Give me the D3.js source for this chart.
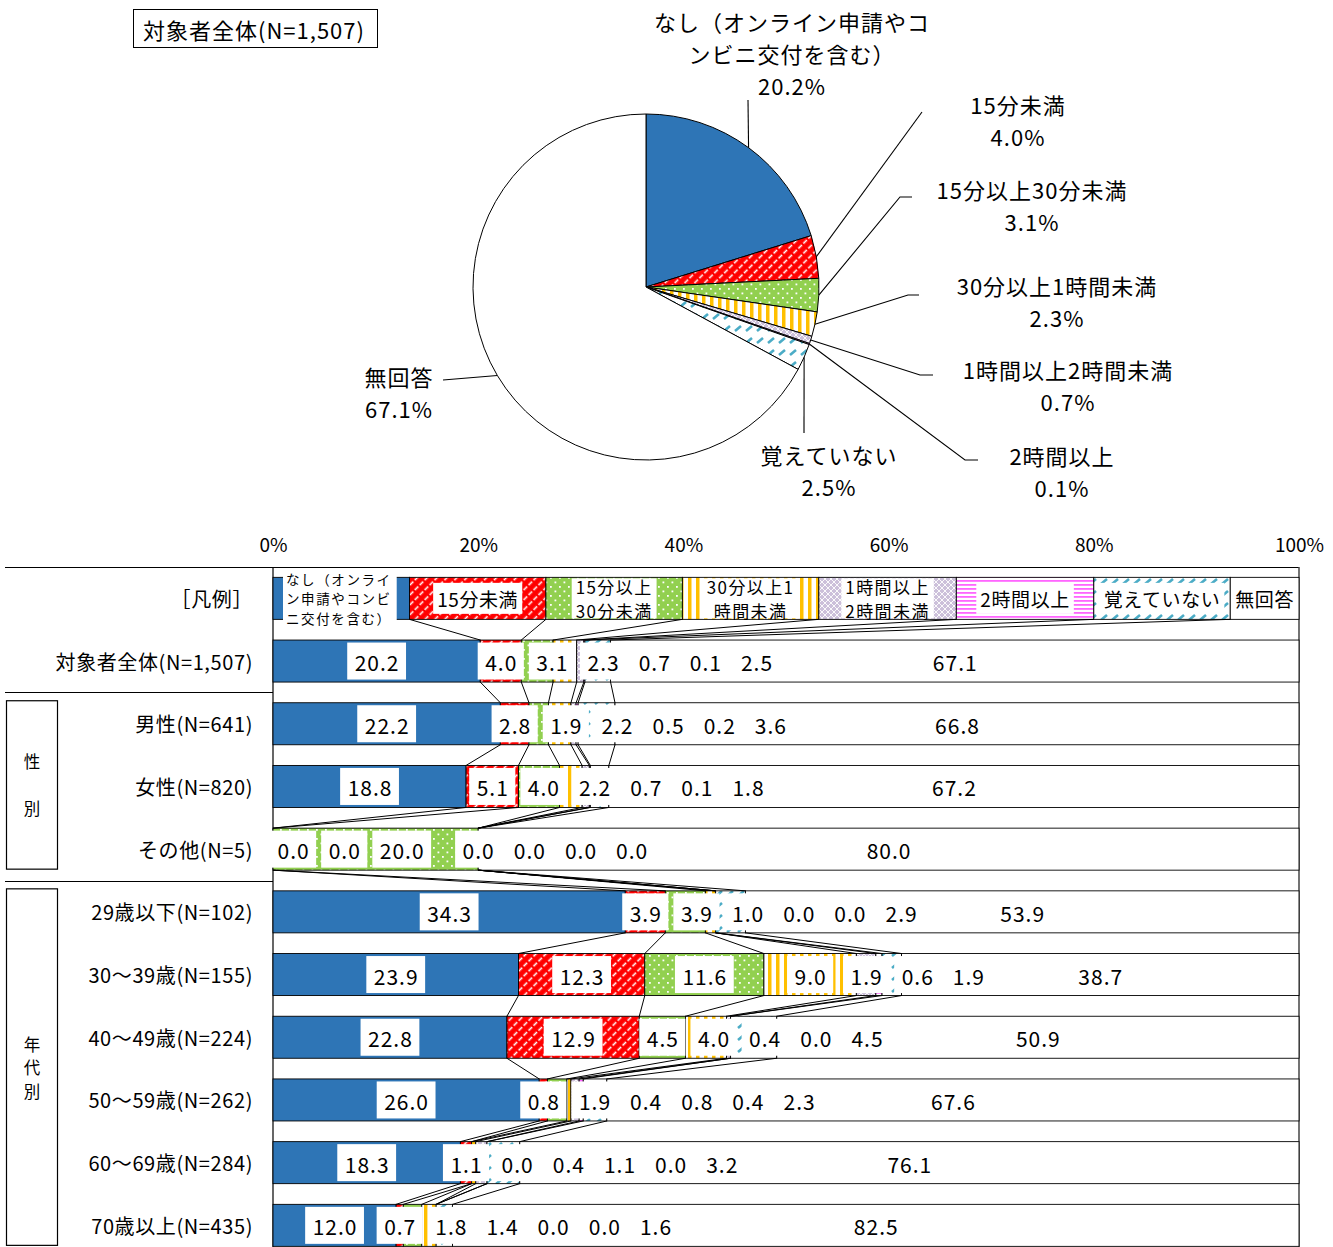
<!DOCTYPE html>
<html>
<head>
<meta charset="utf-8">
<script src="https://cdn.jsdelivr.net/npm/d3@7"></script>
<style>
body { margin: 0; background: #fff; }
text { font-family: "Noto Sans CJK JP", "Noto Sans", sans-serif; fill: #000; }
</style>
</head>
<body>
<div id="chart"></div>
<script>
const width = 1333, height = 1247;

// answer options
const categories = ["なし（オンライン申請やコンビニ交付を含む）", "15分未満", "15分以上30分未満", "30分以上1時間未満",
    "1時間以上2時間未満", "2時間以上", "覚えていない", "無回答"];

// pie (対象者全体)
const pieTitle = "対象者全体(N=1,507)";
const pieValues = [20.2, 4.0, 3.1, 2.3, 0.7, 0.1, 2.5, 67.1];
const pieLabelLines = [["なし（オンライン申請やコ", "ンビニ交付を含む）"], ["15分未満"], ["15分以上30分未満"], ["30分以上1時間未満"],
    ["1時間以上2時間未満"], ["2時間以上"], ["覚えていない"], ["無回答"]];

// legend row of the bar chart
const legendName = "［凡例］";
const legendShares = [13.3, 13.3, 13.3, 13.3, 13.4, 13.4, 13.3, 6.7];
const legendLines = [["なし（オンライ", "ン申請やコンビ", "ニ交付を含む）"], ["15分未満"], ["15分以上", "30分未満"], ["30分以上1", "時間未満"],
    ["1時間以上", "2時間未満"], ["2時間以上"], ["覚えていない"], ["無回答"]];

// bar rows
const rowLabels = ["対象者全体(N=1,507)", "男性(N=641)", "女性(N=820)", "その他(N=5)", "29歳以下(N=102)", "30～39歳(N=155)",
    "40～49歳(N=224)", "50～59歳(N=262)", "60～69歳(N=284)", "70歳以上(N=435)"];
const nashi    = [20.2, 22.2, 18.8,  0.0, 34.3, 23.9, 22.8, 26.0, 18.3, 12.0];
const under15  = [ 4.0,  2.8,  5.1,  0.0,  3.9, 12.3, 12.9,  0.8,  1.1,  0.7];
const min15_30 = [ 3.1,  1.9,  4.0, 20.0,  3.9, 11.6,  4.5,  1.9,  0.0,  1.8];
const min30_60 = [ 2.3,  2.2,  2.2,  0.0,  1.0,  9.0,  4.0,  0.4,  0.4,  1.4];
const hour1_2  = [ 0.7,  0.5,  0.7,  0.0,  0.0,  1.9,  0.4,  0.8,  1.1,  0.0];
const hour2up  = [ 0.1,  0.2,  0.1,  0.0,  0.0,  0.6,  0.0,  0.4,  0.0,  0.0];
const forgot   = [ 2.5,  3.6,  1.8,  0.0,  2.9,  1.9,  4.5,  2.3,  3.2,  1.6];
const noAnswer = [67.1, 66.8, 67.2, 80.0, 53.9, 38.7, 50.9, 67.6, 76.1, 82.5];
const groups = [{ lines: ["性", "", "別"], from: 1, to: 3 }, { lines: ["年", "代", "別"], from: 4, to: 9 }];
const tickValues = [0, 20, 40, 60, 80, 100];

// layout of the pie labels (not data)
const pieCx = 646, pieCy = 287, pieR = 173;
const pieLabelLayout = [
    { x: 792, y: 21, leader: [[748, 100]] },
    { x: 1018, y: 104, leader: [[922, 112]] },
    { x: 1032, y: 189, leader: [[900, 197], [912, 197]] },
    { x: 1057, y: 285, leader: [[908, 295], [919, 295]] },
    { x: 1068, y: 369, leader: [[920, 375], [933, 375]] },
    { x: 1062, y: 455, leader: [[965, 460], [978, 460]] },
    { x: 829, y: 454, leader: [[804, 433]] },
    { x: 399, y: 376, leader: [[443, 380]] }
];

const fills = ["#2E75B6", "url(#pRed)", "url(#pGreen)", "url(#pYellow)", "url(#pLav)", "url(#pPink)", "url(#pCyan)", "#fff"];

const svg = d3.select("#chart").append("svg")
    .attr("width", width)
    .attr("height", height);

// patterns
const defs = svg.append("defs");
let p = defs.append("pattern").attr("id", "pRed").attr("patternUnits", "userSpaceOnUse")
    .attr("width", 7).attr("height", 7).attr("patternTransform", "rotate(45)");
p.append("rect").attr("width", 7).attr("height", 7).attr("fill", "#FF0000");
p.append("line").attr("x1", 3.5).attr("y1", 0).attr("x2", 3.5).attr("y2", 7)
    .attr("stroke", "#fff").attr("stroke-width", 1.6).attr("stroke-dasharray", "5,2");

p = defs.append("pattern").attr("id", "pGreen").attr("patternUnits", "userSpaceOnUse").attr("width", 9).attr("height", 9);
p.append("rect").attr("width", 9).attr("height", 9).attr("fill", "#92D050");
p.append("rect").attr("x", 1).attr("y", 1).attr("width", 1.8).attr("height", 1.8).attr("fill", "#fff");
p.append("rect").attr("x", 5.5).attr("y", 5.5).attr("width", 1.8).attr("height", 1.8).attr("fill", "#fff");

p = defs.append("pattern").attr("id", "pYellow").attr("patternUnits", "userSpaceOnUse").attr("width", 8).attr("height", 8);
p.append("rect").attr("width", 8).attr("height", 8).attr("fill", "#fff");
p.append("rect").attr("width", 3.5).attr("height", 8).attr("fill", "#FFC000");

p = defs.append("pattern").attr("id", "pLav").attr("patternUnits", "userSpaceOnUse").attr("width", 6).attr("height", 6);
p.append("rect").attr("width", 6).attr("height", 6).attr("fill", "#CCC0DA");
p.append("path").attr("d", "M0,0L6,6M6,0L0,6").attr("stroke", "#fff").attr("stroke-width", 0.9);

p = defs.append("pattern").attr("id", "pPink").attr("patternUnits", "userSpaceOnUse").attr("width", 4).attr("height", 4);
p.append("rect").attr("width", 4).attr("height", 4).attr("fill", "#fff");
p.append("rect").attr("width", 4).attr("height", 1.8).attr("fill", "#FF66FF");

p = defs.append("pattern").attr("id", "pCyan").attr("patternUnits", "userSpaceOnUse").attr("width", 11).attr("height", 12);
p.append("rect").attr("width", 11).attr("height", 12).attr("fill", "#fff");
p.append("line").attr("x1", 1).attr("y1", 8).attr("x2", 7).attr("y2", 3)
    .attr("stroke", "#4BACC6").attr("stroke-width", 2.6);

// ---------- title ----------
const title = svg.append("g");
title.append("rect").attr("x", 133.5).attr("y", 9.5).attr("width", 244).attr("height", 38)
    .attr("fill", "#fff").attr("stroke", "#000");
title.append("text").attr("x", 143).attr("y", 29).attr("dominant-baseline", "central")
    .attr("font-size", 22).attr("letter-spacing", 1).text(pieTitle);

// ---------- pie ----------
const pie = d3.pie().sort(null).value(d => d);
const arc = d3.arc().innerRadius(0).outerRadius(pieR);
const arcs = pie(pieValues);
const pg = svg.append("g");
pg.append("g").attr("transform", `translate(${pieCx},${pieCy})`)
    .selectAll("path").data(arcs).enter().append("path")
    .attr("d", arc)
    .attr("fill", (d, i) => fills[i])
    .attr("stroke", "#000").attr("stroke-width", 1).attr("stroke-linejoin", "round");

arcs.forEach((a, i) => {
    const mid = (a.startAngle + a.endAngle) / 2;
    const start = [pieCx + pieR * Math.sin(mid), pieCy - pieR * Math.cos(mid)];
    const lay = pieLabelLayout[i];
    pg.append("path").attr("d", d3.line()([start, ...lay.leader]))
        .attr("fill", "none").attr("stroke", "#000").attr("stroke-width", 1.1);
    const lines = pieLabelLines[i].concat([pieValues[i].toFixed(1) + "%"]);
    pg.append("g").selectAll("text").data(lines).enter().append("text")
        .attr("x", lay.x).attr("y", (d, j) => lay.y + j * 32)
        .attr("text-anchor", "middle").attr("dominant-baseline", "central")
        .attr("font-size", 22).attr("letter-spacing", 1)
        .text(d => d);
});

// ---------- 100% stacked bars ----------
const series = [nashi, under15, min15_30, min30_60, hour1_2, hour2up, forgot, noAnswer];
const rows = [legendShares].concat(rowLabels.map((r, k) => series.map(s => s[k])));
const rowNames = [legendName].concat(rowLabels);

const plotTop = 567, plotLeft = 273, plotRight = 1299;
const x = d3.scaleLinear().domain([0, 100]).range([plotLeft, plotRight]);
const y = d3.scaleBand().domain(d3.range(rows.length)).range([plotTop, plotTop + rows.length * 62.7])
    .paddingInner(0.33).paddingOuter(0.165);
const bw = y.bandwidth();

// cumulative shares, normalised to 100% per row
const cums = rows.map(vals => {
    const total = d3.sum(vals);
    let c = 0;
    return vals.map(v => { const s = c; c += v; return [s / total * 100, c / total * 100]; });
});

// axis
svg.append("g").attr("transform", `translate(0,${plotTop})`)
    .call(d3.axisTop(x).tickValues(tickValues).tickSize(0).tickPadding(15).tickFormat(d => d + "%"))
    .call(g => g.select(".domain").remove())
    .selectAll("text").attr("font-size", 19).attr("font-family", '"Noto Sans CJK JP", sans-serif');

// frame lines
svg.append("line").attr("x1", 5).attr("x2", plotRight).attr("y1", plotTop + 0.5).attr("y2", plotTop + 0.5)
    .attr("stroke", "#000").attr("stroke-width", 1.2);
svg.append("line").attr("x1", plotLeft).attr("x2", plotLeft).attr("y1", plotTop).attr("y2", height)
    .attr("stroke", "#000").attr("stroke-width", 1.2);
svg.append("line").attr("x1", plotRight).attr("x2", plotRight).attr("y1", plotTop).attr("y2", height)
    .attr("stroke", "#444").attr("stroke-width", 1.5);

// group separators and boxes (row index + 1 because of the legend row)
groups.forEach(gr => {
    const sepY = Math.round(y(gr.from + 1) - (y.step() - bw) / 2) + 0.5;
    svg.append("line").attr("x1", 5).attr("x2", plotLeft).attr("y1", sepY).attr("y2", sepY)
        .attr("stroke", "#000").attr("stroke-width", 1.2);
    const top = y(gr.from + 1) - 2, bot = y(gr.to + 1) + bw - 1;
    svg.append("rect").attr("x", 6.5).attr("y", top).attr("width", 51).attr("height", bot - top)
        .attr("fill", "#fff").attr("stroke", "#000").attr("stroke-width", 1.2);
    const cy = (top + bot) / 2;
    svg.append("g").selectAll("text").data(gr.lines).enter().append("text")
        .attr("x", 32).attr("y", (d, j) => cy + (j - (gr.lines.length - 1) / 2) * 23.5)
        .attr("text-anchor", "middle").attr("dominant-baseline", "central")
        .attr("font-size", 16.5).text(d => d);
});

// row labels
svg.append("g").selectAll("text").data(rowNames).enter().append("text")
    .attr("x", 253).attr("y", (d, k) => y(k) + bw / 2)
    .attr("text-anchor", "end").attr("dominant-baseline", "central")
    .attr("font-size", 20).attr("letter-spacing", 0.6)
    .text(d => d);

// segments
const barG = svg.append("g");
rows.forEach((vals, k) => {
    barG.append("g").selectAll("rect").data(cums[k]).enter().append("rect")
        .attr("x", d => x(d[0])).attr("y", y(k))
        .attr("width", d => x(d[1]) - x(d[0])).attr("height", bw)
        .attr("fill", (d, i) => fills[i])
        .attr("stroke", "#000").attr("stroke-width", 0.9);
});

// series lines between consecutive bars
for (let k = 0; k < rows.length - 1; k++) {
    for (let i = 0; i < categories.length - 1; i++) {
        barG.append("line")
            .attr("x1", x(cums[k][i][1])).attr("y1", y(k) + bw)
            .attr("x2", x(cums[k + 1][i][1])).attr("y2", y(k + 1))
            .attr("stroke", "#000").attr("stroke-width", 1);
    }
}

// legend labels inside legend row
const legG = svg.append("g");
legendLines.forEach((lines, i) => {
    const first = i === 0;
    const multi = lines.length > 1;
    const fs = first ? 13.5 : (multi ? 17 : 19);
    const lh = first ? 19.5 : 24.5;
    const cx = first ? x(0) + 13 : x((cums[0][i][0] + cums[0][i][1]) / 2);
    const cy = y(0) + bw / 2;
    const g = legG.append("g");
    const box = g.append("rect").attr("fill", "#fff");
    const t = g.selectAll("text").data(lines).enter().append("text")
        .attr("x", cx).attr("y", (d, j) => cy + (j - (lines.length - 1) / 2) * lh)
        .attr("text-anchor", first ? "start" : "middle").attr("dominant-baseline", "central")
        .attr("font-size", fs).attr("letter-spacing", first ? 1.6 : (multi ? 1.4 : 0.6))
        .text(d => d);
    const w = d3.max(t.nodes(), n => n.getComputedTextLength());
    const h = first ? 60 : (multi ? bw - 2 : 31);
    box.attr("x", first ? cx - 3 : cx - w / 2 - 4).attr("y", cy - h / 2)
        .attr("width", w + 8).attr("height", h);
});

// value labels: centred on their segment, pushed right when they would overlap
const labG = svg.append("g");
rows.forEach((vals, k) => {
    if (k === 0) return;
    const cy = y(k) + bw / 2;
    const items = vals.map((v, i) => {
        const g = labG.append("g");
        const box = g.append("rect").attr("fill", "#fff");
        const t = g.append("text").attr("text-anchor", "middle").attr("dominant-baseline", "central")
            .attr("font-size", 21).attr("letter-spacing", 1).attr("y", cy + 1).text(v.toFixed(1));
        const w = t.node().getComputedTextLength() + 14;
        return { g, box, t, w, ideal: x((cums[k][i][0] + cums[k][i][1]) / 2) };
    });
    let prev = null;
    items.forEach(it => {
        let px = Math.max(it.ideal, x(0) - 3 + it.w / 2);
        if (prev) px = Math.max(px, prev.x + (prev.w + it.w) / 2 + 5);
        it.x = px;
        prev = it;
    });
    items.forEach(it => {
        it.t.attr("x", it.x + 0.5);
        it.box.attr("x", it.x - it.w / 2).attr("y", cy - (bw - 5) / 2)
            .attr("width", it.w).attr("height", bw - 5);
    });
});
</script>
</body>
</html>
